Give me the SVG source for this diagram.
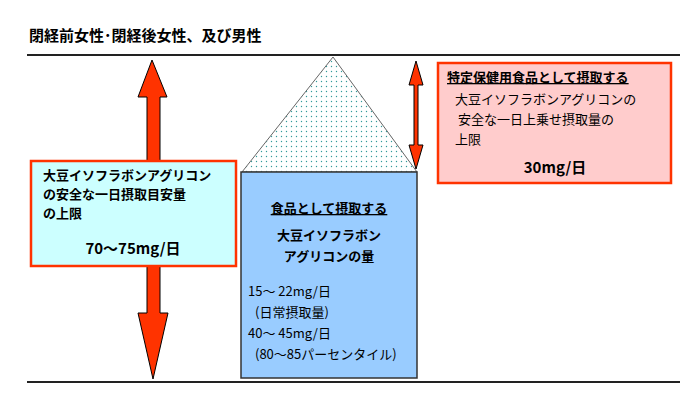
<svg xmlns="http://www.w3.org/2000/svg" width="689" height="414" viewBox="0 0 689 414">
<style>
text{font-family:"Noto Sans CJK JP","Noto Sans CJK SC",sans-serif;fill:#000}
.b{font-weight:bold;font-size:13px}
.n{font-size:13px}
.line{stroke:#222;stroke-width:2}
.arr{fill:#ff3300;stroke:#000;stroke-width:1}
</style>
<defs>
<pattern id="dots" width="5" height="5" patternUnits="userSpaceOnUse">
<rect width="5" height="5" fill="#ffffff"/>
<circle cx="1.5" cy="1.5" r="0.7" fill="#339999"/>
</pattern>
</defs>
<rect width="689" height="414" fill="#fff"/>
<text x="29" y="41" class="b" font-size="15" style="font-size:15px">閉経前女性･閉経後女性、及び男性</text>
<g id="connectors">
<line class="line" x1="27" y1="55" x2="680" y2="55"/>
<line class="line" x1="27" y1="382" x2="680" y2="382"/>
<polygon id="up-arrow" class="arr" points="152,60 167,97 160,97 160,162 147,162 147,97 138,97"/>
<polygon id="down-arrow" class="arr" points="153,379 168,313 160,313 160,266 147,266 147,313 138,313"/>
<polygon id="double-arrow" class="arr" points="416,61 423,85 418,85 418,145 423,145 416,169 409,145 414,145 414,85 409,85"/>
</g>
<g id="triangle"><polygon points="333,57 242,172 417,172" fill="url(#dots)" stroke="#666" stroke-width="1"/></g>
<g id="food-box">
<rect x="241" y="172" width="176" height="206" fill="#99ccff" stroke="#333" stroke-width="1.5"/>
<text x="329" y="213" class="b" text-anchor="middle" text-decoration="underline">食品として摂取する</text>
<text x="329" y="240" class="b" text-anchor="middle">大豆イソフラボン</text>
<text x="329" y="261" class="b" text-anchor="middle">アグリコンの量</text>
<text x="248" y="296" class="n">15～ 22mg/日</text>
<text x="255" y="317" class="n">(日常摂取量)</text>
<text x="248" y="338" class="n">40～ 45mg/日</text>
<text x="255" y="359" class="n">(80～85パーセンタイル)</text>
</g>
<g id="left-box">
<rect x="31" y="161" width="205" height="105" fill="#ccffff" stroke="#ff3300" stroke-width="2.5"/>
<text x="43" y="180" class="b">大豆イソフラボンアグリコン</text>
<text x="43" y="199" class="b">の安全な一日摂取目安量</text>
<text x="43" y="218" class="b">の上限</text>
<text x="133" y="254" class="b" text-anchor="middle" style="font-size:15px">70～75mg/日</text>
</g>
<g id="right-box">
<rect x="438" y="63" width="233" height="120" fill="#ffcccc" stroke="#ff3300" stroke-width="2.5"/>
<text x="447" y="82" class="b" text-decoration="underline">特定保健用食品として摂取する</text>
<text x="455" y="104" class="n">大豆イソフラボンアグリコンの</text>
<text x="458" y="124" class="n">安全な一日上乗せ摂取量の</text>
<text x="455" y="144" class="n">上限</text>
<text x="555" y="173" class="b" text-anchor="middle" style="font-size:15px">30mg/日</text>
</g>
</svg>
